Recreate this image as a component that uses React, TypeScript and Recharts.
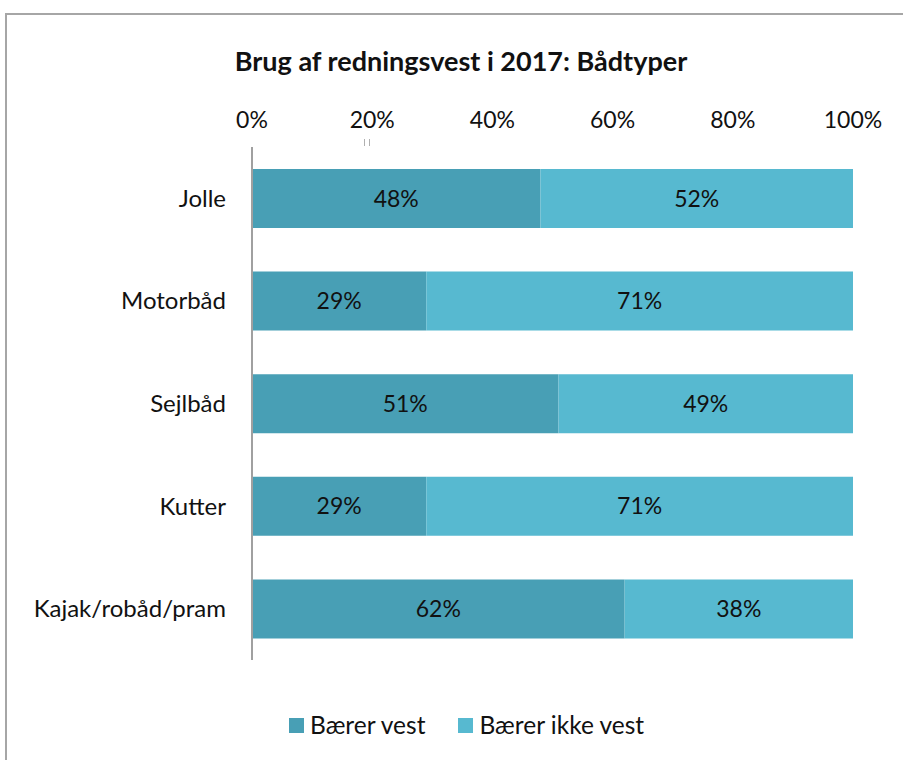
import React from "react";
import { BarChart, Bar, XAxis, YAxis, LabelList } from "recharts";

const categories = ["Jolle", "Motorbåd", "Sejlbåd", "Kutter", "Kajak/robåd/pram"];
const baererVest = [48, 29, 51, 29, 62];
const baererIkkeVest = [52, 71, 49, 71, 38];
const xTicks = [0, 20, 40, 60, 80, 100];

const DARK = "#489fb5";
const LIGHT = "#57b9d0";
const FONT = "Lato, 'Noto Sans', sans-serif";

const data = categories.map((name, i) => ({
  name,
  vest: baererVest[i],
  ikke: baererIkkeVest[i],
}));

function LegendBox() {
  const items = [
    { label: "Bærer vest", color: DARK },
    { label: "Bærer ikke vest", color: LIGHT },
  ];
  return (
    <div
      style={{
        position: "absolute",
        left: 289,
        top: 710,
        display: "flex",
        gap: 33,
        fontFamily: FONT,
        fontSize: 24.5,
        color: "#111",
        lineHeight: "30px",
      }}
    >
      {items.map((it) => (
        <div key={it.label} style={{ display: "flex", alignItems: "center" }}>
          <span style={{ width: 15, height: 15, background: it.color, display: "inline-block", marginRight: 6 }} />
          <span>{it.label}</span>
        </div>
      ))}
    </div>
  );
}

export default function App() {
  return (
    <div style={{ position: "absolute", left: 0, top: 0, width: 903, height: 760, background: "#fff", overflow: "hidden" }}>
      <div
        style={{
          position: "absolute",
          left: 5,
          top: 13,
          width: 920,
          height: 780,
          border: "2px solid #a6a6a6",
          boxSizing: "border-box",
        }}
      />
      <div
        style={{
          position: "absolute",
          left: 0,
          top: 44,
          width: 922,
          textAlign: "center",
          fontFamily: FONT,
          fontWeight: 700,
          fontSize: 27,
          color: "#111",
        }}
      >
        Brug af redningsvest i 2017: Bådtyper
      </div>
      {/* small stray marks below the 20% tick */}
      <div style={{ position: "absolute", left: 364, top: 139, width: 1, height: 7, background: "#b0b0b0" }} />
      <div style={{ position: "absolute", left: 369, top: 139, width: 1, height: 7, background: "#b0b0b0" }} />
      <div style={{ position: "absolute", left: 0, top: 0 }}>
        <BarChart
          width={903}
          height={760}
          data={data}
          layout="vertical"
          margin={{ top: 117, right: 50, bottom: 100, left: 0 }}
        >
          <XAxis
            type="number"
            orientation="top"
            domain={[0, 100]}
            ticks={xTicks}
            tickFormatter={(v) => `${v}%`}
            axisLine={false}
            tickLine={false}
            height={30}
            tickSize={0}
            tickMargin={19}
            tick={{ fontFamily: FONT, fontSize: 23, fill: "#111" }}
          />
          <YAxis
            type="category"
            dataKey="name"
            width={252}
            axisLine={{ stroke: "#a0a0a0", strokeWidth: 2 }}
            tickLine={false}
            tickSize={0}
            tickMargin={26}
            tick={{ fontFamily: FONT, fontSize: 24, fill: "#111" }}
          />
          <Bar dataKey="vest" name="Bærer vest" stackId="a" fill={DARK} barSize={59} isAnimationActive={false}>
            <LabelList dataKey="vest" position="center" formatter={(v: any) => `${v}%`} style={{ fontFamily: FONT, fontSize: 23, fill: "#111" }} />
          </Bar>
          <Bar dataKey="ikke" name="Bærer ikke vest" stackId="a" fill={LIGHT} barSize={59} isAnimationActive={false}>
            <LabelList dataKey="ikke" position="center" formatter={(v: any) => `${v}%`} style={{ fontFamily: FONT, fontSize: 23, fill: "#111" }} />
          </Bar>
        </BarChart>
      </div>
      <LegendBox />
    </div>
  );
}
